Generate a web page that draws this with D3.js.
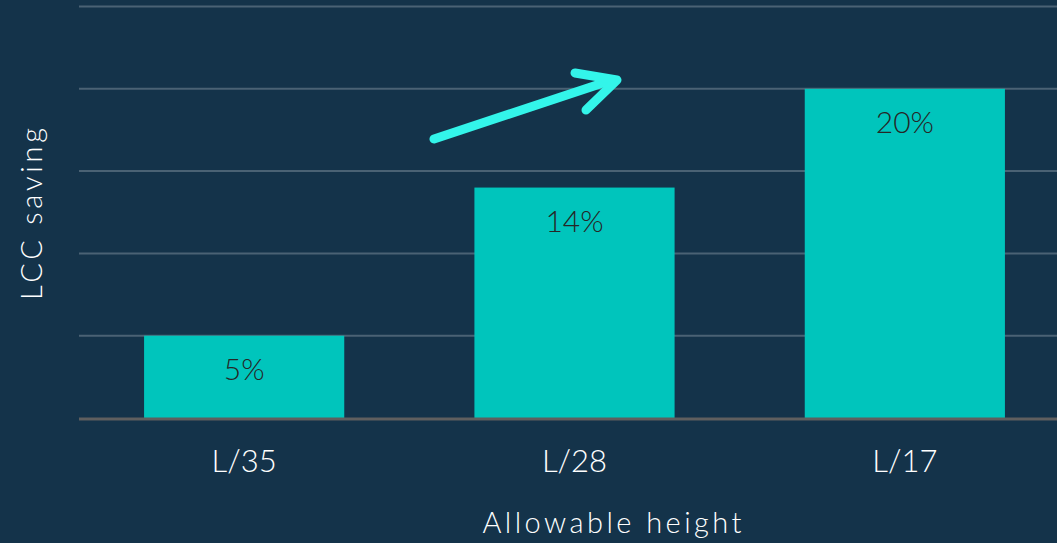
<!DOCTYPE html>
<html>
<head>
  <script src="https://d3js.org/d3.v7.js"></script>
  <style>
    html, body {
      margin: 0px;
      padding: 0px;
      background: #14334a;
      font-family: Lato, "Open Sans", sans-serif;
    }
    #chart { width: 1057px; height: 543px; position: relative; }
  </style>
</head>
<body>
  <div id="chart"></div>
  <script>
    // data
    const categories = ["L/35", "L/28", "L/17"];
    const savings = [5, 14, 20];
    const gridTicks = [0, 5, 10, 15, 20, 25];

    const width = 1057, height = 543;
    const margin = {top: 6.5, left: 79, right: -13, bottom: 124};

    const svg = d3.select("#chart").append("svg")
      .attr("width", width)
      .attr("height", height);

    const xScale = d3.scaleBand()
      .domain(categories)
      .range([margin.left, width - margin.right])
      .paddingInner(0.394)
      .paddingOuter(0.197);

    const yScale = d3.scaleLinear()
      .domain([0, 25])
      .range([height - margin.bottom - 1, margin.top]);

    // gridlines
    svg.append("g")
      .selectAll("line")
      .data(gridTicks.filter(d => d > 0))
      .enter().append("line")
        .attr("x1", margin.left)
        .attr("x2", width)
        .attr("y1", d => yScale(d))
        .attr("y2", d => yScale(d))
        .attr("stroke", "#4a6274")
        .attr("stroke-width", 2);

    // bars
    const data = categories.map((c, i) => ({cat: c, value: savings[i]}));
    svg.selectAll("rect.bar")
      .data(data)
      .enter().append("rect")
        .attr("class", "bar")
        .attr("x", d => xScale(d.cat))
        .attr("y", d => yScale(d.value))
        .attr("width", xScale.bandwidth())
        .attr("height", d => yScale(0) - yScale(d.value))
        .attr("fill", "#00c5bc");

    // baseline
    svg.append("line")
      .attr("x1", margin.left)
      .attr("x2", width)
      .attr("y1", yScale(0) + 1)
      .attr("y2", yScale(0) + 1)
      .attr("stroke", "#5f5f5f")
      .attr("stroke-width", 3);

    // value labels
    svg.selectAll("text.value")
      .data(data)
      .enter().append("text")
        .attr("class", "value")
        .attr("x", d => xScale(d.cat) + xScale.bandwidth() / 2)
        .attr("y", d => yScale(d.value) + 44)
        .attr("text-anchor", "middle")
        .attr("font-size", 30)
        .attr("font-weight", 300)
        .attr("fill", "#262626")
        .text(d => d.value + "%");

    // x axis labels
    const xAxis = svg.append("g")
      .attr("transform", `translate(0,${yScale(0)})`)
      .call(d3.axisBottom(xScale).tickSize(0).tickPadding(30));
    xAxis.select(".domain").remove();
    xAxis.selectAll("text")
      .attr("dy", 0)
      .attr("font-family", "Lato, sans-serif")
      .attr("font-size", 31)
      .attr("font-weight", 300)
      .attr("fill", "#ffffff")
      .attr("y", 54);

    // axis titles
    svg.append("text")
      .attr("x", 612)
      .attr("y", 533)
      .attr("text-anchor", "middle")
      .attr("font-size", 29)
      .attr("font-weight", 300)
      .attr("fill", "#ffffff")
      .attr("textLength", 259)
      .attr("lengthAdjust", "spacing")
      .text("Allowable height");

    svg.append("text")
      .attr("transform", "rotate(-90)")
      .attr("x", -214)
      .attr("y", 42)
      .attr("text-anchor", "middle")
      .attr("font-size", 29)
      .attr("font-weight", 300)
      .attr("fill", "#ffffff")
      .attr("textLength", 172)
      .attr("lengthAdjust", "spacing")
      .text("LCC saving");

    // trend arrow
    const arrow = svg.append("g")
      .attr("stroke", "#33f5ea")
      .attr("stroke-width", 9)
      .attr("stroke-linecap", "round")
      .attr("stroke-linejoin", "round")
      .attr("fill", "none");
    arrow.append("line")
      .attr("x1", 434).attr("y1", 139)
      .attr("x2", 612).attr("y2", 80);
    arrow.append("polyline")
      .attr("points", "575,73 617,80 586,110");
  </script>
</body>
</html>
